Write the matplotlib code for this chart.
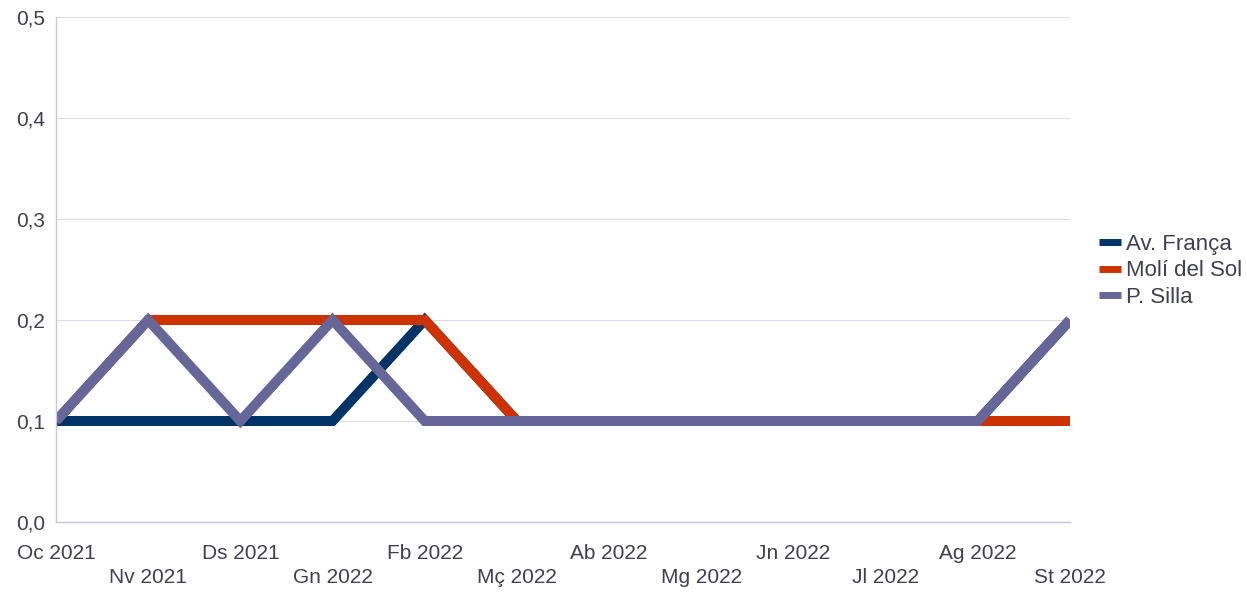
import numpy as np
import matplotlib.pyplot as plt
from matplotlib.lines import Line2D

plt.rcParams['font.family'] = ['Liberation Sans', 'DejaVu Sans']

mesos = ['Oc 2021', 'Nv 2021', 'Ds 2021', 'Gn 2022', 'Fb 2022', 'Mç 2022',
         'Ab 2022', 'Mg 2022', 'Jn 2022', 'Jl 2022', 'Ag 2022', 'St 2022']
noms = ['Av. França', 'Molí del Sol', 'P. Silla']
av_franca = [0.1, 0.1, 0.1, 0.1, 0.2, 0.1, 0.1, 0.1, 0.1, 0.1, 0.1, 0.2]
moli_sol = [0.1, 0.2, 0.2, 0.2, 0.2, 0.1, 0.1, 0.1, 0.1, 0.1, 0.1, 0.1]
p_silla = [0.1, 0.2, 0.1, 0.2, 0.1, 0.1, 0.1, 0.1, 0.1, 0.1, 0.1, 0.2]

colors = ['#003366', '#cc3300', '#666699']
text_col = '#404050'

fig = plt.figure(figsize=(12.47, 5.96), dpi=100)
ax = fig.add_axes([56/1247, 1-522/596, (1070-56)/1247, (522-17)/596])

x = np.arange(len(mesos))
for serie, nom, c in zip([av_franca, moli_sol, p_silla], noms, colors):
    ax.plot(x, serie, color=c, lw=7.2, label=nom,
            solid_joinstyle='miter', solid_capstyle='butt')

ax.set_xlim(0, len(mesos) - 1)
ax.set_ylim(0, 0.5)
yt = np.arange(0, 0.51, 0.1)
ax.set_yticks(yt)
ax.set_yticklabels([f'{v:.1f}'.replace('.', ',') for v in yt])
ax.set_xticks(x)
ax.set_xticklabels([m if i % 2 == 0 else '\n' + m for i, m in enumerate(mesos)])
ax.tick_params(length=0, labelsize=15, labelcolor=text_col)
ax.tick_params(axis='x', pad=16)
ax.tick_params(axis='y', pad=8)
for t in ax.get_xticklabels():
    t.set_linespacing(1.3)

ax.grid(axis='y', color='#dcdce8', lw=0.8)
ax.set_axisbelow(True)
for s in ['top', 'right']:
    ax.spines[s].set_visible(False)
for s in ['left', 'bottom']:
    ax.spines[s].set_color('#c8c8dc')
    ax.spines[s].set_linewidth(1)

handles = [Line2D([], [], color=c, lw=5, solid_capstyle='butt') for c in colors]
leg = fig.legend(handles, noms, loc='center left',
                 bbox_to_anchor=(1099/1247, 1-271/596),
                 frameon=False, fontsize=16, handlelength=1.0,
                 handletextpad=0.2, labelspacing=0.24, borderpad=0,
                 borderaxespad=0)
for t in leg.get_texts():
    t.set_color(text_col)

fig.savefig('out.png', dpi=100)
